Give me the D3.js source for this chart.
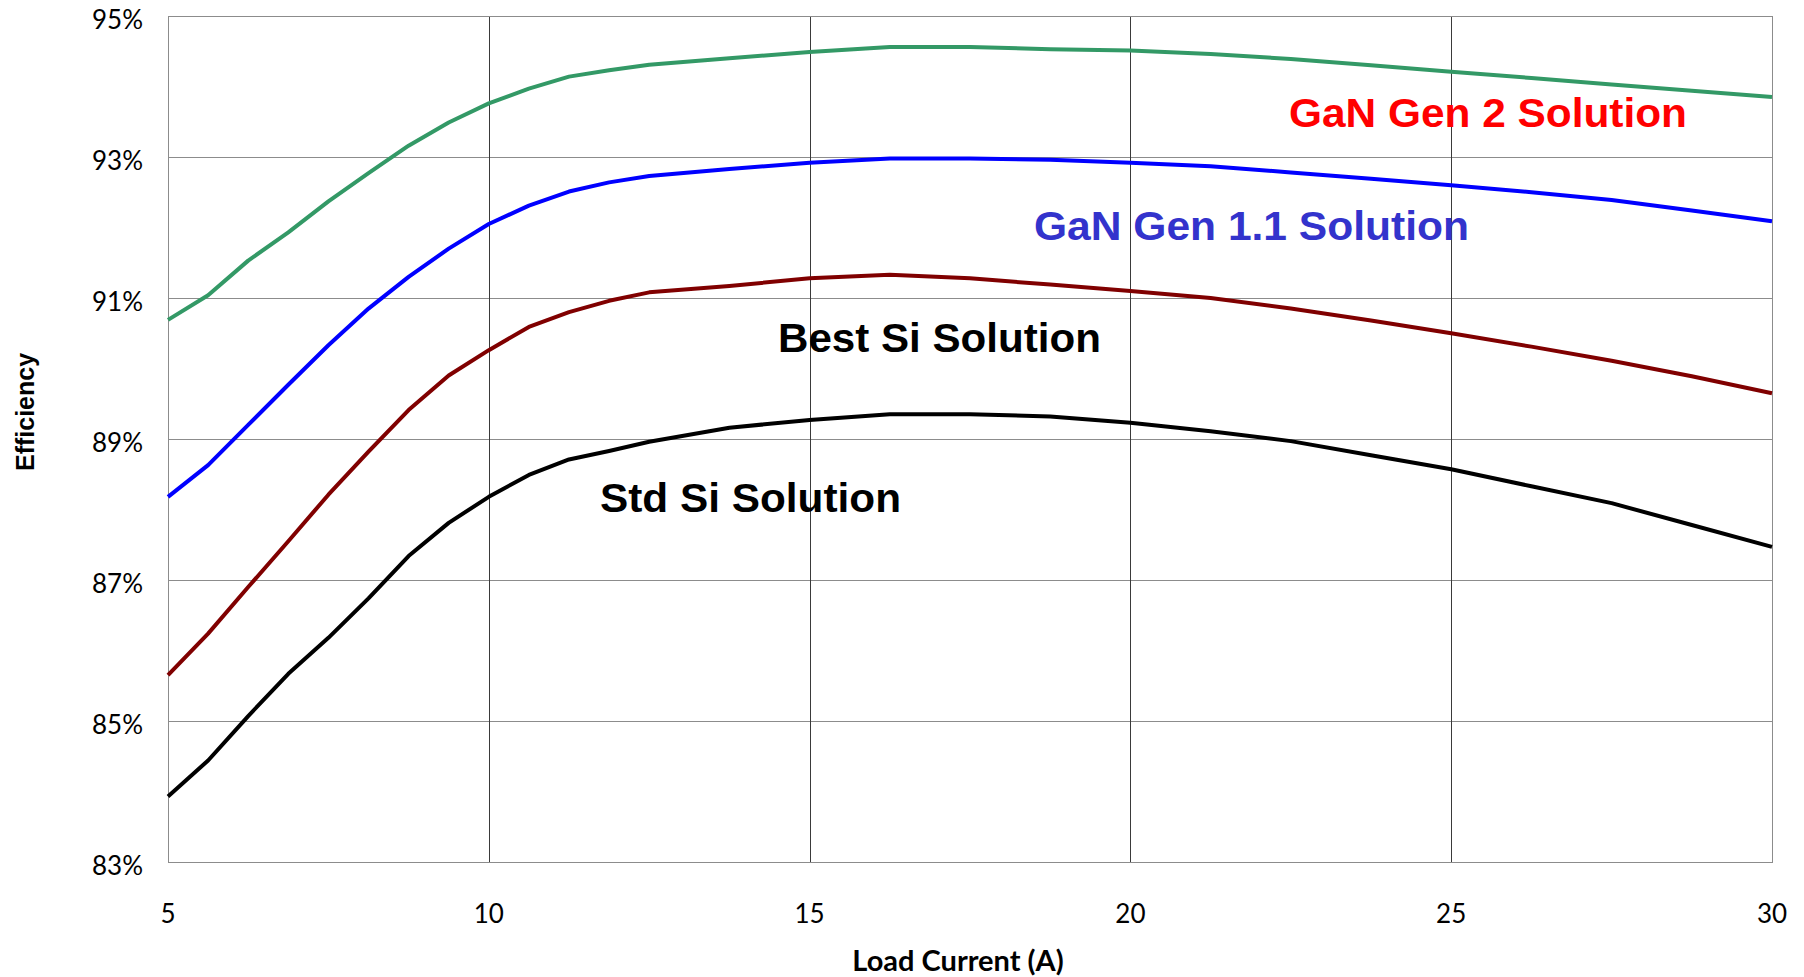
<!DOCTYPE html>
<html>
<head>
<meta charset="utf-8">
<script src="https://cdn.jsdelivr.net/npm/d3@7"></script>
<style>
  html, body { margin: 0; padding: 0; background: #fff; }
  svg { display: block; }
</style>
</head>
<body>
<svg id="chart" width="1804" height="977"></svg>
<script>
// ---- data ----
const loadCurrent = [5, 5.625, 6.25, 6.875, 7.5, 8.125, 8.75, 9.375, 10, 10.625, 11.25, 11.875, 12.5, 13.75, 15, 16.25, 17.5, 18.75, 20, 21.25, 22.5, 23.75, 25, 26.25, 27.5, 28.75, 30];
const ganGen2  = [90.69, 91.04, 91.53, 91.93, 92.37, 92.77, 93.16, 93.49, 93.76, 93.97, 94.14, 94.23, 94.31, 94.40, 94.49, 94.56, 94.56, 94.53, 94.51, 94.46, 94.39, 94.30, 94.21, 94.12, 94.03, 93.94, 93.85];
const ganGen11 = [88.18, 88.63, 89.20, 89.77, 90.33, 90.85, 91.30, 91.70, 92.05, 92.31, 92.51, 92.64, 92.73, 92.83, 92.92, 92.98, 92.98, 92.96, 92.92, 92.87, 92.78, 92.69, 92.60, 92.50, 92.39, 92.24, 92.09];
const bestSi   = [85.65, 86.24, 86.90, 87.55, 88.21, 88.82, 89.41, 89.90, 90.26, 90.59, 90.80, 90.96, 91.08, 91.17, 91.28, 91.33, 91.28, 91.19, 91.10, 91.00, 90.85, 90.68, 90.50, 90.31, 90.11, 89.89, 89.65];
const stdSi    = [83.93, 84.44, 85.07, 85.67, 86.18, 86.74, 87.34, 87.81, 88.18, 88.49, 88.71, 88.83, 88.96, 89.16, 89.27, 89.35, 89.35, 89.32, 89.23, 89.11, 88.97, 88.77, 88.57, 88.33, 88.09, 87.78, 87.47];

const xTicks = [5, 10, 15, 20, 25, 30];
const yTicks = [83, 85, 87, 89, 91, 93, 95];
const seriesNames = ["GaN Gen 2 Solution", "GaN Gen 1.1 Solution", "Best Si Solution", "Std Si Solution"];
const xTitle = "Load Current (A)";
const yTitle = "Efficiency";

// ---- layout ----
const svg = d3.select("#chart");
const L = 168, R = 1772, T = 16, B = 862;

const x = d3.scaleLinear().domain([5, 30]).range([L, R]);
const y = d3.scaleLinear().domain([83, 95]).range([B, T]);

// horizontal gridlines
svg.append("g").selectAll("line").data(yTicks).join("line")
  .attr("x1", L).attr("x2", R)
  .attr("y1", d => y(d) + 0.5).attr("y2", d => y(d) + 0.5)
  .attr("stroke", "#8c8c8c").attr("stroke-width", 1);

// vertical gridlines
svg.append("g").selectAll("line").data(xTicks.slice(1, -1)).join("line")
  .attr("x1", d => Math.round(x(d)) + 0.5).attr("x2", d => Math.round(x(d)) + 0.5)
  .attr("y1", T).attr("y2", B)
  .attr("stroke", "#3a3a3a").attr("stroke-width", 1);

// plot border
svg.append("rect")
  .attr("x", L + 0.5).attr("y", T + 0.5)
  .attr("width", R - L).attr("height", B - T)
  .attr("fill", "none").attr("stroke", "#8c8c8c").attr("stroke-width", 1);

// y tick labels
svg.append("g").selectAll("text").data(yTicks).join("text")
  .attr("x", 143).attr("y", d => y(d) + 3)
  .attr("text-anchor", "end").attr("dominant-baseline", "central")
  .attr("font-family", "Lato, 'Open Sans', sans-serif").attr("font-size", 26)
  .attr("fill", "#000")
  .text(d => d + "%");

// x tick labels
svg.append("g").selectAll("text").data(xTicks).join("text")
  .attr("x", d => x(d)).attr("y", 923)
  .attr("text-anchor", "middle")
  .attr("font-family", "Lato, 'Open Sans', sans-serif").attr("font-size", 26)
  .attr("fill", "#000")
  .text(d => d);

// axis titles
svg.append("text")
  .attr("x", 958).attr("y", 971)
  .attr("text-anchor", "middle")
  .attr("font-family", "Lato, 'Open Sans', sans-serif").attr("font-weight", "bold").attr("font-size", 29)
  .attr("fill", "#000")
  .text(xTitle);

svg.append("text")
  .attr("transform", "translate(34,412) rotate(-90)")
  .attr("text-anchor", "middle")
  .attr("font-family", "'Liberation Sans', Arial, sans-serif").attr("font-weight", "bold").attr("font-size", 25)
  .attr("fill", "#000")
  .text(yTitle);

// lines
const series = [
  { vals: stdSi,    color: "#000000" },
  { vals: bestSi,   color: "#800000" },
  { vals: ganGen11, color: "#0000ff" },
  { vals: ganGen2,  color: "#339966" }
];
const line = d3.line()
  .x((d, i) => x(loadCurrent[i]))
  .y(d => y(d));

svg.append("g").selectAll("path").data(series).join("path")
  .attr("d", d => line(d.vals))
  .attr("fill", "none")
  .attr("stroke", d => d.color)
  .attr("stroke-width", 4)
  .attr("stroke-linejoin", "round");

// series labels
const labels = [
  { text: seriesNames[0], x: 1289, y: 127, w: 398, color: "#ff0000" },
  { text: seriesNames[1], x: 1034, y: 240, w: 435, color: "#3333cc" },
  { text: seriesNames[2], x: 778,  y: 352, w: 323, color: "#000000" },
  { text: seriesNames[3], x: 600,  y: 512, w: 301, color: "#000000" }
];
svg.append("g").selectAll("text").data(labels).join("text")
  .attr("x", d => d.x).attr("y", d => d.y)
  .attr("font-family", "'Liberation Sans', Arial, sans-serif")
  .attr("font-weight", "bold").attr("font-size", 41)
  .attr("textLength", d => d.w).attr("lengthAdjust", "spacingAndGlyphs")
  .attr("fill", d => d.color)
  .text(d => d.text);
</script>
</body>
</html>
